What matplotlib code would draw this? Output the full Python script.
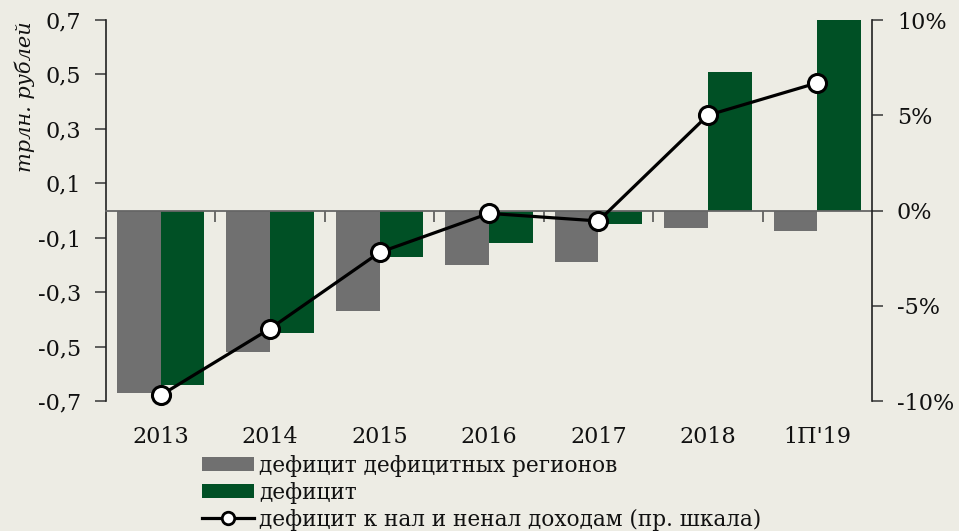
import numpy as np
import matplotlib
matplotlib.use("Agg")
import matplotlib.pyplot as plt
from matplotlib.ticker import FuncFormatter, FixedLocator
from matplotlib.lines import Line2D
from matplotlib.patches import Patch

# data
categories = ["2013", "2014", "2015", "2016", "2017", "2018", "1П'19"]
deficit_regions = [-0.67, -0.52, -0.37, -0.20, -0.19, -0.066, -0.074]   # трлн руб
deficit_total = [-0.64, -0.45, -0.17, -0.12, -0.05, 0.51, 0.70]         # трлн руб
deficit_share = [-9.7, -6.2, -2.2, -0.15, -0.55, 5.0, 6.7]              # % к доходам, правая шкала

left_ticks = [-0.7, -0.5, -0.3, -0.1, 0.1, 0.3, 0.5, 0.7]
right_ticks = [-10, -5, 0, 5, 10]

BG = "#EDECE4"
GREY = "#707070"
GREEN = "#005025"
SERIF = "DejaVu Serif"

fig = plt.figure(figsize=(9.59, 5.31), dpi=100, facecolor=BG)
ax = fig.add_axes([106 / 959, 1 - 401 / 531, (872 - 106) / 959, (401 - 20) / 531])
ax.set_facecolor(BG)

x = np.arange(len(categories))
w = 0.4
ax.bar(x - w / 2, deficit_regions, width=w, color=GREY, zorder=2)
ax.bar(x + w / 2, deficit_total, width=w, color=GREEN, zorder=2)

ax.set_xlim(-0.5, len(categories) - 0.5)
ax.set_ylim(-0.7, 0.7)
ax.set_yticks(left_ticks)
ax.yaxis.set_major_formatter(FuncFormatter(lambda v, p: f"{v:.1f}".replace(".", ",")))
ax.tick_params(axis="y", direction="out", length=8, width=1.2, color="#444444",
               pad=10, labelsize=16, labelcolor="#111111")
for lab in ax.get_yticklabels():
    lab.set_family(SERIF)

# zero line with boundary ticks
ax.spines["bottom"].set_position(("data", 0))
ax.spines["bottom"].set_color("#666666")
ax.spines["bottom"].set_linewidth(1.3)
ax.spines["bottom"].set_zorder(3)
ax.spines["left"].set_color("#222222")
ax.spines["left"].set_linewidth(1.2)
ax.spines["top"].set_visible(False)
ax.spines["right"].set_visible(False)
ax.xaxis.set_major_locator(FixedLocator(np.arange(0.5, len(categories) - 1, 1.0)))
ax.tick_params(axis="x", direction="out", length=8, width=1.2, color="#555555",
               labelbottom=False)

# category labels at the bottom of the plot
sec = ax.secondary_xaxis(0)
sec.set_xticks(x, categories)
sec.tick_params(length=0, pad=18, labelsize=16, labelcolor="#111111")
for lab in sec.get_xticklabels():
    lab.set_family(SERIF)
sec.spines["bottom"].set_visible(False)

# right axis line
ax2 = ax.twinx()
ax2.set_ylim(-10, 10)
ax2.set_yticks(right_ticks)
ax2.yaxis.set_major_formatter(FuncFormatter(lambda v, p: f"{int(v)}%"))
ax2.tick_params(axis="y", direction="out", length=8, width=1.2, color="#444444",
                pad=10, labelsize=16, labelcolor="#111111")
for lab in ax2.get_yticklabels():
    lab.set_family(SERIF)
for s in ["top", "left", "bottom"]:
    ax2.spines[s].set_visible(False)
ax2.spines["right"].set_color("#222222")
ax2.spines["right"].set_linewidth(1.2)
ax2.plot(x, deficit_share, color="black", lw=2.3, marker="o", markersize=13,
         markerfacecolor="white", markeredgecolor="black", markeredgewidth=2.2,
         zorder=5, clip_on=False)

fig.text(25 / 959, 1 - 97 / 531, "трлн. рублей", rotation=90, ha="center", va="center",
         fontsize=15, style="italic", family=SERIF, color="#111111")

handles = [
    Patch(facecolor=GREY, edgecolor="none"),
    Patch(facecolor=GREEN, edgecolor="none"),
    Line2D([], [], color="black", lw=2.3, marker="o", markersize=9,
           markerfacecolor="white", markeredgecolor="black", markeredgewidth=2),
]
labels = ["дефицит дефицитных регионов", "дефицит",
          "дефицит к нал и ненал доходам (пр. шкала)"]
leg = fig.legend(handles, labels, loc="upper left",
                 bbox_to_anchor=(202 / 959, 1 - 455 / 531), frameon=False,
                 borderpad=0, borderaxespad=0, handlelength=2.4, handleheight=0.6,
                 handletextpad=0.22, labelspacing=0.22,
                 prop={"family": SERIF, "size": 15.6})
for t in leg.get_texts():
    t.set_color("#111111")

fig.savefig("out.png", dpi=100, facecolor=BG)
